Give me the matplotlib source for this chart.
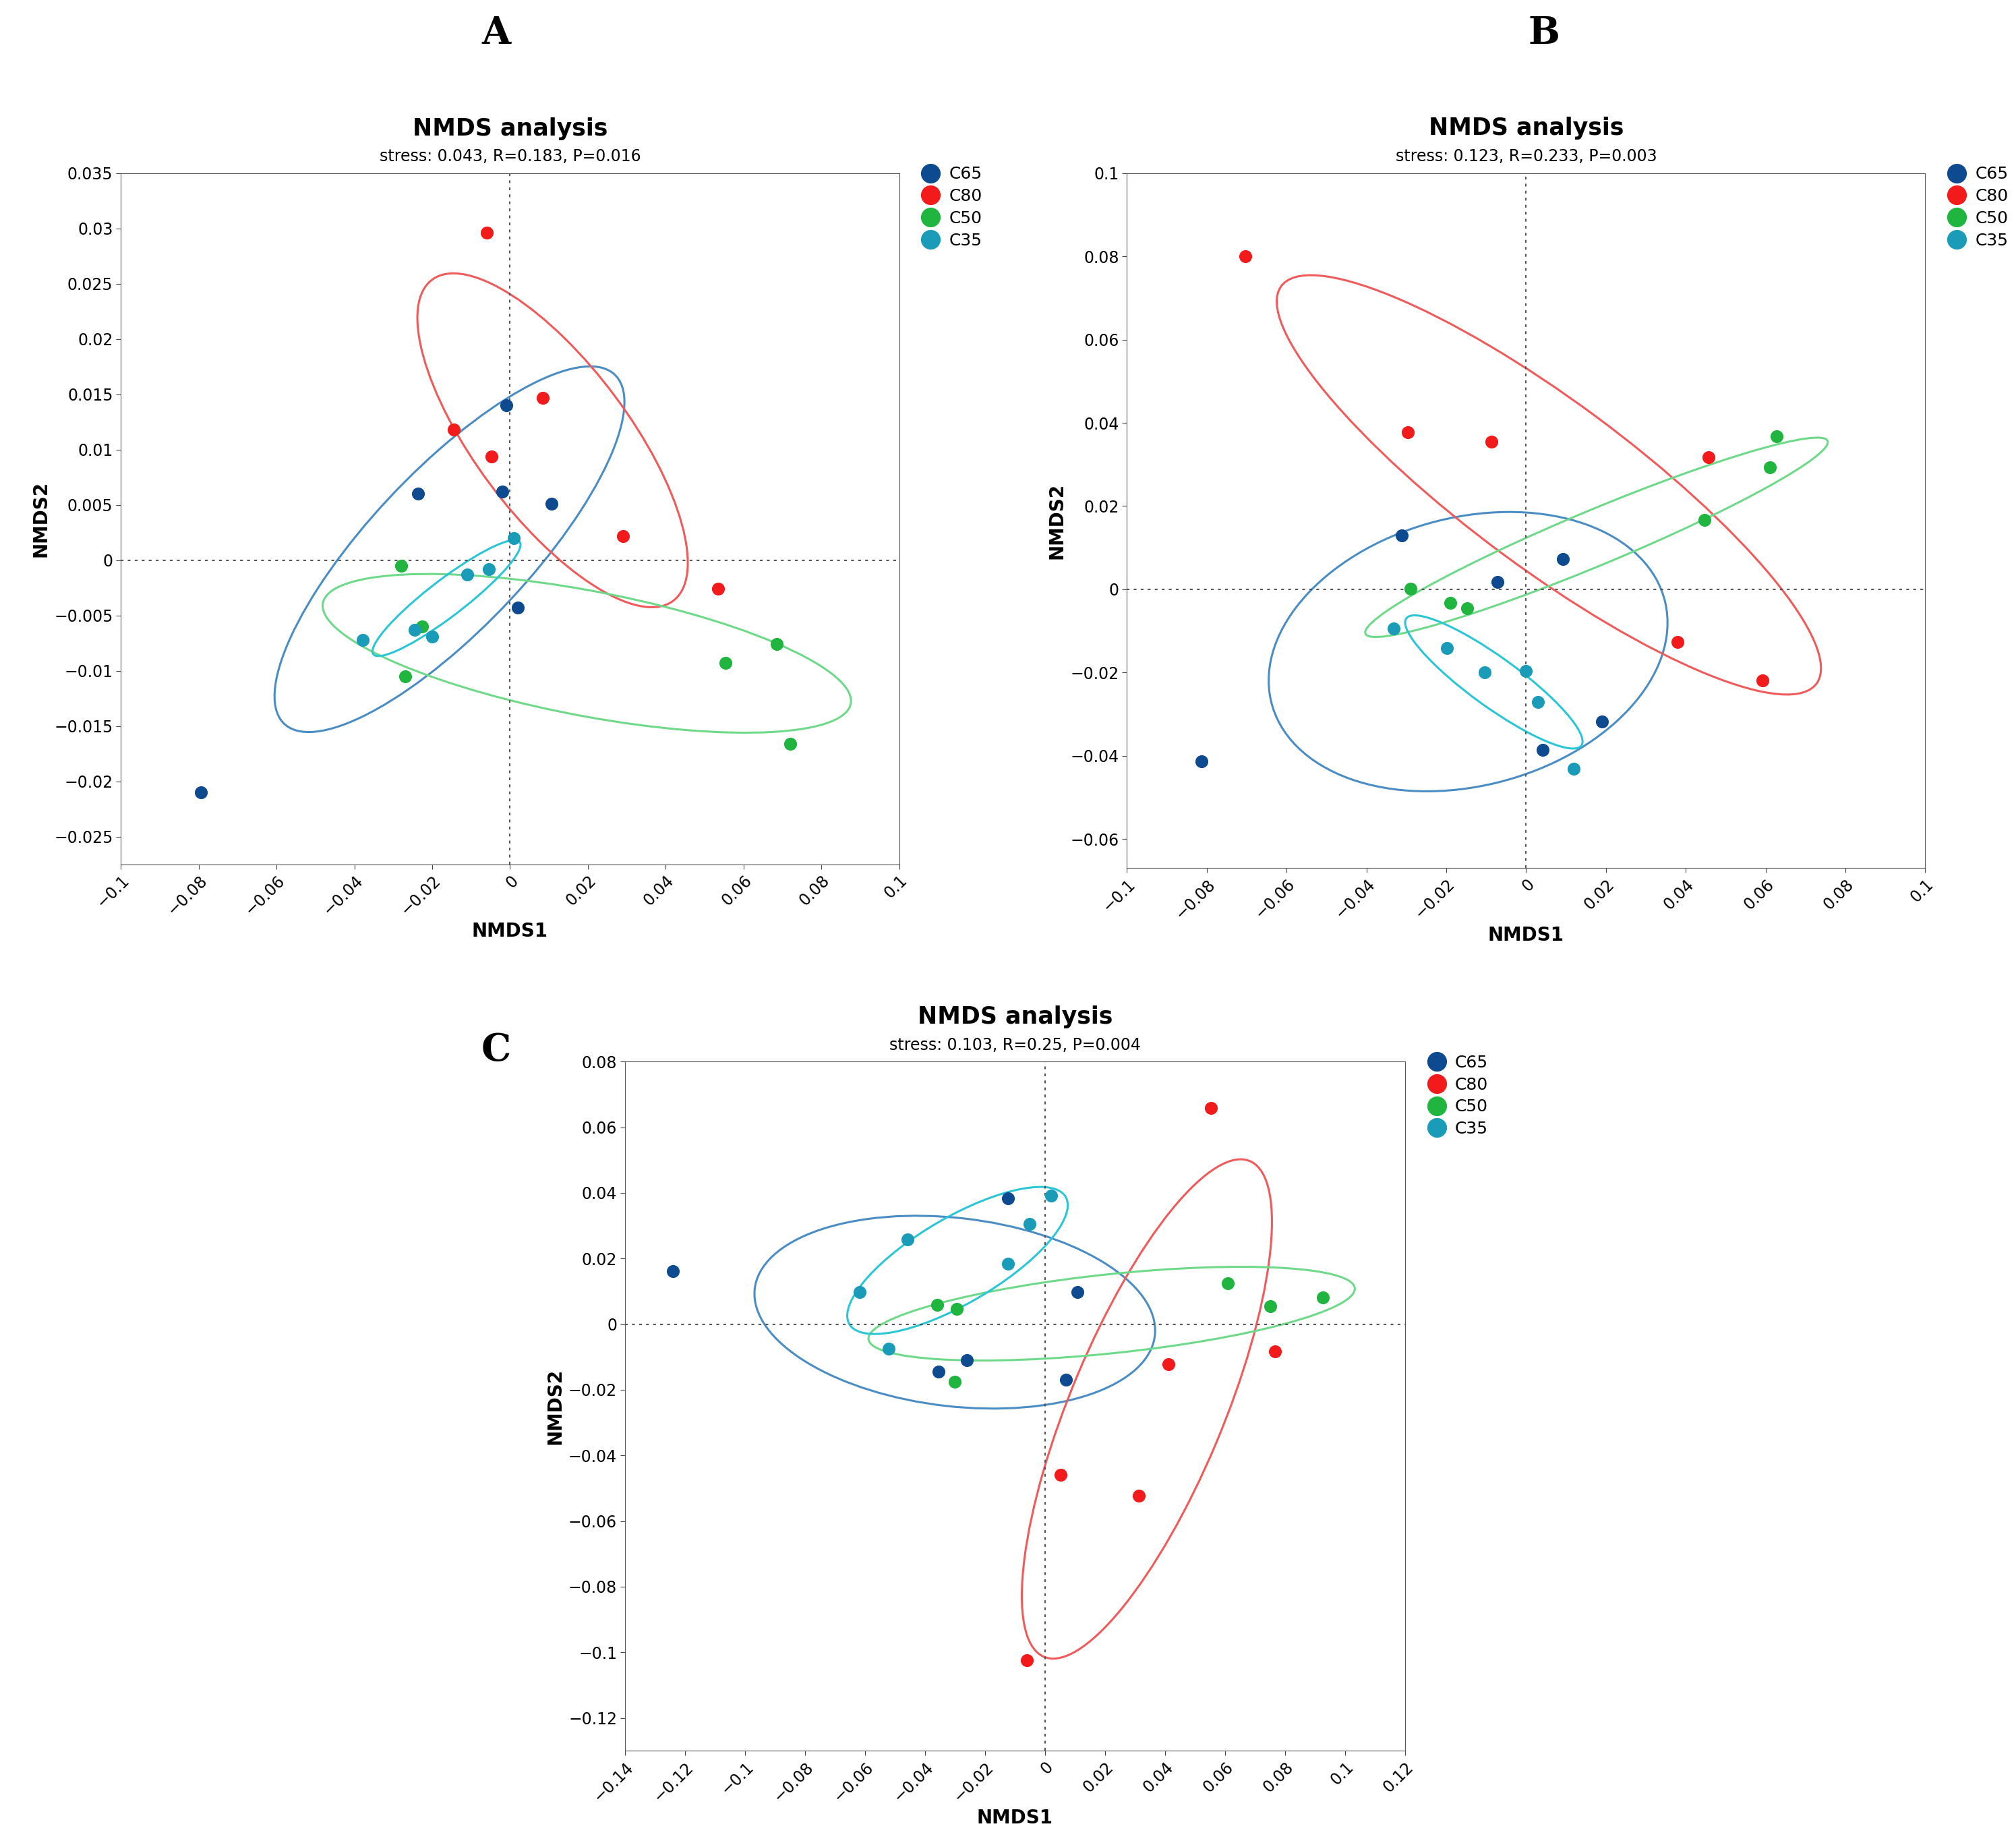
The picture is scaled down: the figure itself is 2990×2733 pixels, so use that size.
import numpy as np
import matplotlib
matplotlib.use("Agg")
import matplotlib.pyplot as plt
from matplotlib.patches import Ellipse
from matplotlib.lines import Line2D

groups = ["C65", "C80", "C50", "C35"]
dot_colors = {"C65": "#0d4a8f", "C80": "#f21a1a", "C50": "#1fb53e", "C35": "#1a9cb8"}
ell_colors = {"C65": "#4a8cc4", "C80": "#f05a5a", "C50": "#6fd98a", "C35": "#2ac6d6"}

# panel A
a_x = {"C65": [-0.0236, -0.001, -0.002, 0.0107, 0.002, -0.0795],
       "C80": [-0.006, 0.0084, -0.0144, -0.0048, 0.029, 0.0534],
       "C50": [-0.028, -0.0226, -0.027, 0.0554, 0.0686, 0.072],
       "C35": [0.001, -0.0055, -0.011, -0.0246, -0.02, -0.0379]}
a_y = {"C65": [0.006, 0.014, 0.0062, 0.0051, -0.0043, -0.021],
       "C80": [0.0296, 0.0147, 0.0118, 0.0094, 0.0022, -0.0026],
       "C50": [-0.0005, -0.006, -0.0105, -0.0093, -0.0076, -0.0166],
       "C35": [0.002, -0.0008, -0.0013, -0.0063, -0.0069, -0.0072]}
# panel B
b_x = {"C65": [-0.0312, -0.0071, 0.0093, -0.0814, 0.0042, 0.019],
       "C80": [-0.0704, -0.0296, -0.0087, 0.0457, 0.038, 0.0592],
       "C50": [0.0627, 0.0611, 0.0447, -0.0289, -0.019, -0.0148],
       "C35": [-0.0331, -0.0199, -0.0103, 0.0, 0.0029, 0.0119]}
b_y = {"C65": [0.0129, 0.0017, 0.0073, -0.0414, -0.0386, -0.0318],
       "C80": [0.0801, 0.0377, 0.0355, 0.0318, -0.0126, -0.0219],
       "C50": [0.0367, 0.0293, 0.0166, 0.0002, -0.0033, -0.0045],
       "C35": [-0.0095, -0.0141, -0.02, -0.0197, -0.0271, -0.0432]}
# panel C
c_x = {"C65": [-0.1241, -0.0124, 0.0107, -0.0261, -0.0355, 0.0069],
       "C80": [0.0553, 0.0411, 0.0767, 0.0052, 0.0313, -0.006],
       "C50": [0.0609, 0.075, 0.0926, -0.0359, -0.0295, -0.03],
       "C35": [0.0021, -0.0051, -0.0124, -0.0458, -0.0617, -0.0522]}
c_y = {"C65": [0.0161, 0.0384, 0.0098, -0.011, -0.0145, -0.0169],
       "C80": [0.0659, -0.0122, -0.0082, -0.0459, -0.0522, -0.1024],
       "C50": [0.0125, 0.0055, 0.0082, 0.0059, 0.0047, -0.0176],
       "C35": [0.0392, 0.0306, 0.0184, 0.0259, 0.0098, -0.0075]}

subtitles = ["stress: 0.043, R=0.183, P=0.016",
             "stress: 0.123, R=0.233, P=0.003",
             "stress: 0.103, R=0.25, P=0.004"]


def fmt(v):
    v = round(v, 4)
    if v == 0:
        return "0"
    return ("%g" % v).replace("-", "\u2212")


def conf_ellipse(ax, x, y, color):
    x = np.array(x); y = np.array(y)
    cov = np.cov(x, y)
    vals, vecs = np.linalg.eigh(cov)
    order = vals.argsort()[::-1]
    vals, vecs = vals[order], vecs[:, order]
    ang = np.degrees(np.arctan2(vecs[1, 0], vecs[0, 0]))
    k = 1.35
    w, h = 2 * k * np.sqrt(vals)
    e = Ellipse((x.mean(), y.mean()), w, h, angle=ang, fill=False, ec=color, lw=2.2)
    ax.add_patch(e)


def panel(ax, xs, ys, xlim, ylim, xt, yt, sub):
    for g in groups:
        conf_ellipse(ax, xs[g], ys[g], ell_colors[g])
    for g in groups:
        ax.scatter(xs[g], ys[g], s=190, color=dot_colors[g], zorder=3, lw=0)
    ax.axhline(0, color="#555555", ls=(0, (2, 3)), lw=1.5)
    ax.axvline(0, color="#555555", ls=(0, (2, 3)), lw=1.5)
    ax.set_xlim(*xlim); ax.set_ylim(*ylim)
    ax.set_xticks(xt); ax.set_yticks(yt)
    ax.set_xticklabels([fmt(v) for v in xt], rotation=45, ha="right", rotation_mode="anchor")
    ax.set_yticklabels([fmt(v) for v in yt])
    ax.tick_params(labelsize=17, color="#444444", length=5)
    for s in ax.spines.values():
        s.set_color("#555555")
    ax.set_xlabel("NMDS1", fontsize=20, fontweight="bold")
    ax.set_ylabel("NMDS2", fontsize=20, fontweight="bold")
    ax.text(0.5, 1.055, "NMDS analysis", transform=ax.transAxes, ha="center", fontsize=25, fontweight="bold")
    ax.text(0.5, 1.017, sub, transform=ax.transAxes, ha="center", fontsize=17)
    handles = [Line2D([], [], marker="o", ls="", ms=20, color=dot_colors[g], label=g) for g in groups]
    ax.legend(handles=handles, loc="upper left", bbox_to_anchor=(1.01, 1.02), frameon=False,
              fontsize=18, handletextpad=0.1, labelspacing=0.35, borderaxespad=0)


fig = plt.figure(figsize=(29.9, 27.33), dpi=100)
axA = fig.add_axes([0.060, 0.531, 0.386, 0.375])
axB = fig.add_axes([0.559, 0.529, 0.396, 0.377])
axC = fig.add_axes([0.310, 0.050, 0.387, 0.374])

panel(axA, a_x, a_y, (-0.1, 0.1), (-0.0275, 0.035),
      np.arange(-0.1, 0.1001, 0.02), np.arange(-0.025, 0.0351, 0.005), subtitles[0])
panel(axB, b_x, b_y, (-0.1, 0.1), (-0.067, 0.1),
      np.arange(-0.1, 0.1001, 0.02), np.arange(-0.06, 0.1001, 0.02), subtitles[1])
panel(axC, c_x, c_y, (-0.14, 0.12), (-0.13, 0.08),
      np.arange(-0.14, 0.1201, 0.02), np.arange(-0.12, 0.0801, 0.02), subtitles[2])

fig.text(0.246, 0.982, "A", fontsize=40, fontweight="bold", family="DejaVu Serif", ha="center", va="center")
fig.text(0.766, 0.982, "B", fontsize=40, fontweight="bold", family="DejaVu Serif", ha="center", va="center")
fig.text(0.246, 0.430, "C", fontsize=40, fontweight="bold", family="DejaVu Serif", ha="center", va="center")

fig.savefig("out.png", dpi=100, facecolor="white")
